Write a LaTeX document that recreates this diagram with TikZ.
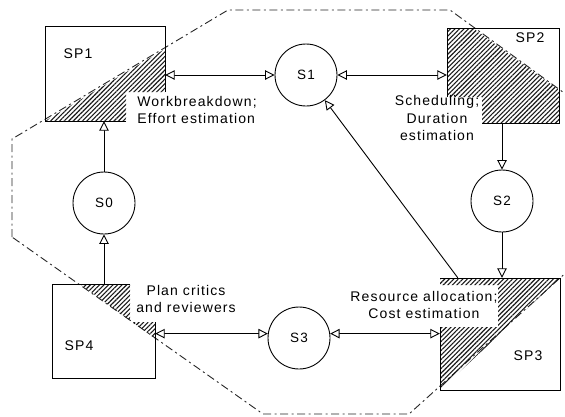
\documentclass[tikz,border=0pt]{standalone}
\usepackage{fontspec}
\setmainfont[LetterSpace=8]{Liberation Sans}
\usetikzlibrary{arrows.meta,patterns.meta,calc}

\begin{document}
\begin{tikzpicture}[x=1pt,y=-1pt,
  >={Triangle[length=9.5pt,width=9.5pt,fill=white]},
  state/.style={circle,draw,line width=0.9pt,minimum size=62pt,inner sep=0pt,
    font=\fontsize{13.5}{15}\selectfont},
  area/.style={inner sep=0pt},
  boxname/.style={inner sep=0pt,font=\fontsize{14}{15}\selectfont},
  note/.style={inner sep=0pt,font=\fontsize{14}{17.5}\selectfont},
  hatch/.style={pattern={Lines[angle=45,distance=3.2pt,line width=1.1pt]},pattern color=black!90},
  edge/.style={line width=0.95pt},
  conn/.style={line width=0.9pt},
  region/.style={line width=0.9pt,black!85,dash pattern=on 8pt off 3.5pt on 2pt off 3.5pt}]

\useasboundingbox (0,0) rectangle (565,416);

% planning regions (invisible frames used as connector anchors)
\node[area,minimum width=120pt,minimum height=95pt]  (B1) at (105,73.5) {};
\node[area,minimum width=112pt,minimum height=95pt]  (B2) at (503,75.5) {};
\node[area,minimum width=120pt,minimum height=112pt] (B3) at (500,334) {};
\node[area,minimum width=103pt,minimum height=94pt]  (B4) at (103.5,331) {};

% boundary of the planning process
\begin{scope}
  \clip (0,0) rectangle (565,416);
  \draw[region] (12,237) -- (12,139) -- (228,10) -- (450,10) -- (600,119)
    -- (600,242) -- (409,414) -- (263,414) -- cycle;
\end{scope}

% hatched parts of the sub-processes
\fill[hatch] (45,121) -- (165,49) -- (165,92) -- (126,92) -- (126,121) -- cycle;
\fill[hatch] (447,28) -- (473,28) -- (559,90) -- (559,123) -- (482,123)
  -- (482,97) -- (447,97) -- cycle;
\fill[hatch] (440,278) -- (560,278) -- (440,390) -- (440,327) -- (498,327)
  -- (498,285) -- (440,285) -- cycle;
\fill[hatch] (80,284) -- (130,284) -- (130,320.4) -- cycle;
\fill[hatch] (132.3,322) -- (155,322) -- (155,338.5) -- cycle;

% sub-process frames
\draw[edge] (126,121) -- (45,121) -- (45,26) -- (165,26) -- (165,92);
\draw[edge] (447,97) -- (447,28) -- (559,28) -- (559,123) -- (482,123);
\draw[edge] (440,327) -- (440,390) -- (560,390) -- (560,278) -- (440,278);
\draw[edge] (130,284) -- (52,284) -- (52,378) -- (155,378) -- (155,322);

% sub-process names
\node[boxname] (SP1) at (78,54) {SP1};
\node[boxname] (SP2) at (530,38) {SP2};
\node[boxname] (SP3) at (528,356) {SP3};
\node[boxname] (SP4) at (79,346) {SP4};

% activity descriptions
\node[note,align=left]   (T1) at (197,110) {Workbreakdown;\\Effort estimation};
\node[note,align=center] (T2) at (437,118) {Scheduling;\\Duration\\estimation};
\node[note,align=center] (T3) at (424,305) {Resource allocation;\\Cost estimation};
\node[note,align=center] (T4) at (186,299) {Plan critics\\and reviewers};

% states
\node[state] (S0) at (104,203) {S0};
\node[state] (S1) at (306,75)  {S1};
\node[state] (S2) at (502,201) {S2};
\node[state] (S3) at (299,338) {S3};

% transitions
\draw[conn,->]  (S0.north) -- (S0 |- B1.south);
\draw[conn,->]  (S0 |- B4.north) -- (S0.south);
\draw[conn,<->] (B1.east |- S1.west) -- (S1.west);
\draw[conn,<->] (S1.east) -- (B2.west |- S1.east);
\draw[conn,->]  (S2 |- B2.south) -- (S2.north);
\draw[conn,->]  (S2.south) -- (S2 |- B3.north);
\draw[conn,<->] (B4.east |- S3.172) -- (S3.172);
\draw[conn,<->] (S3.8) -- (B3.west |- S3.8);
\draw[conn,->]  ($(B3.north west)+(18,0)$) -- (S1);

\end{tikzpicture}
\end{document}
